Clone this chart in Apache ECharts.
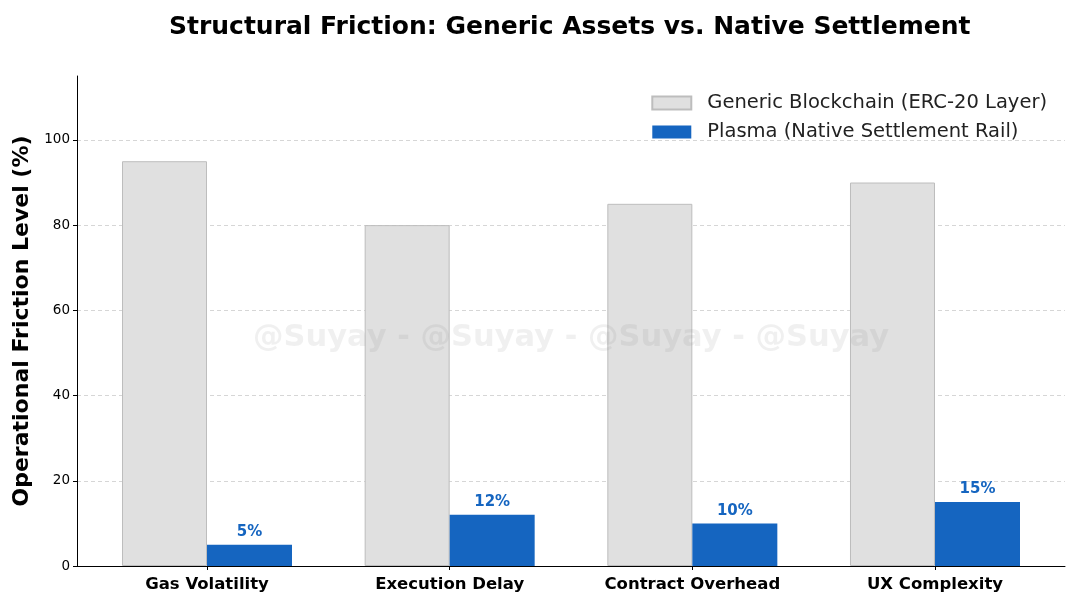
<!DOCTYPE html>
<html>
<head>
<meta charset="utf-8">
<script src="https://cdn.jsdelivr.net/npm/echarts@6/dist/echarts.min.js"></script>
<style>html,body{margin:0;padding:0;background:#fff}#c{width:1080px;height:609px}</style>
</head>
<body>
<div id="c"></div>
<script>
const categories = ['Gas Volatility', 'Execution Delay', 'Contract Overhead', 'UX Complexity'];
const genericValues = [95, 80, 85, 90];
const plasmaValues = [5, 12, 10, 15];
const yTicks = [0, 20, 40, 60, 80, 100];
const seriesNames = ['Generic Blockchain (ERC-20 Layer)', 'Plasma (Native Settlement Rail)'];

const FONT = 'DejaVu Sans';
const chart = echarts.init(document.getElementById('c'), null, {renderer: 'canvas'});
chart.setOption({
  animation: false,
  backgroundColor: '#fff',
  textStyle: {fontFamily: FONT},
  title: {
    text: 'Structural Friction: Generic Assets vs. Native Settlement',
    left: 164, top: 10,
    textStyle: {fontFamily: FONT, fontSize: 25, fontWeight: 'bold', color: '#000'}
  },
  legend: {
    orient: 'vertical', right: 28, top: 88,
    itemWidth: 39, itemHeight: 13, itemGap: 9,
    icon: 'rect',
    textStyle: {fontFamily: FONT, fontSize: 19.5, color: '#222', padding: [0, 0, 0, 11]},
    data: seriesNames
  },
  grid: [
    {left: 77, right: 15, top: 76, bottom: 43},
    {left: 85.67, right: 23.67, top: 76, bottom: 43}
  ],
  xAxis: [
    {type: 'value', gridIndex: 0, min: 0, max: 1, axisLine: {show: true, lineStyle: {color: '#000', width: 1}},
     axisTick: {show: false}, axisLabel: {show: false}, splitLine: {show: false}},
    {type: 'category', gridIndex: 1, data: categories,
     axisLine: {show: false},
     axisTick: {show: true, alignWithLabel: true, length: 4, lineStyle: {color: '#000'}},
     axisLabel: {fontFamily: FONT, fontSize: 16.5, fontWeight: 'bold', color: '#000', margin: 10}}
  ],
  yAxis: [
    {type: 'value', gridIndex: 0, min: 0, max: 115, interval: 20,
     name: 'Operational Friction Level (%)', nameLocation: 'middle', nameGap: 38,
     nameTextStyle: {fontFamily: FONT, fontSize: 22, fontWeight: 'bold', color: '#000'},
     axisLine: {show: true, lineStyle: {color: '#000', width: 1}},
     axisTick: {show: true, length: 4, lineStyle: {color: '#000'}, customValues: yTicks},
     axisLabel: {fontFamily: FONT, fontSize: 13.5, color: '#000', margin: 7, customValues: yTicks},
     splitLine: {show: true, lineStyle: {type: [4, 3], width: 1,
       color: ['#d6d6d6', '#d6d6d6', '#d6d6d6', '#d6d6d6', '#d6d6d6', '#d6d6d6', 'rgba(0,0,0,0)']}}},
    {type: 'value', gridIndex: 1, min: 0, max: 115, show: false, splitLine: {show: false}}
  ],
  series: [
    {name: seriesNames[0], type: 'bar', xAxisIndex: 1, yAxisIndex: 1, data: genericValues,
     barWidth: 85, barGap: '0%',
     itemStyle: {color: '#e0e0e0', borderColor: '#bdbdbd', borderWidth: 1}},
    {name: seriesNames[1], type: 'bar', xAxisIndex: 1, yAxisIndex: 1, data: plasmaValues,
     barWidth: 85, barGap: '0%',
     itemStyle: {color: '#1565c0'},
     label: {show: true, position: 'top', distance: 5, formatter: '{c}%',
       fontFamily: FONT, fontSize: 15, fontWeight: 'bold', color: '#1565c0'}}
  ],
  graphic: [{
    type: 'text', left: 253, top: 323, z: 100, silent: true,
    style: {text: '@Suyay - @Suyay - @Suyay - @Suyay', fontFamily: FONT, fontSize: 30.5,
      fontWeight: 'bold', fill: 'rgba(128,128,128,0.12)'}
  }]
});
</script>
</body>
</html>
